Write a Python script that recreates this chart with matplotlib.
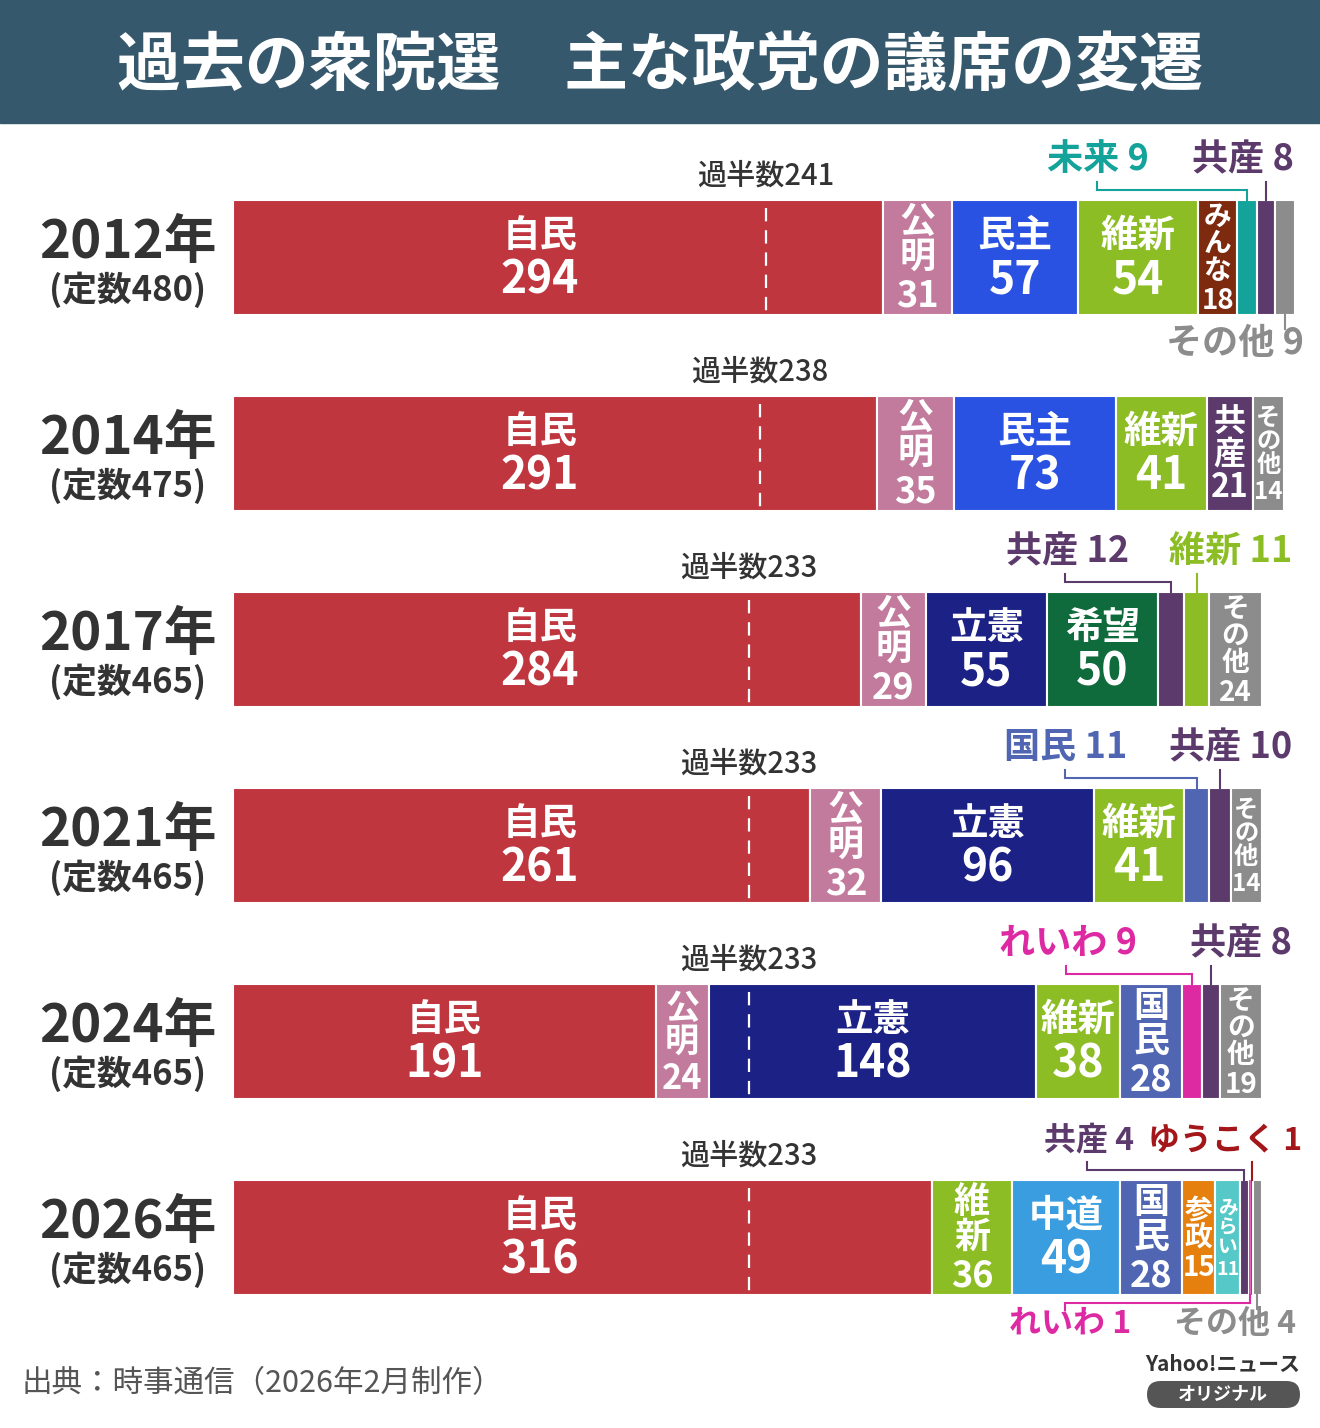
import matplotlib.pyplot as plt
from matplotlib.patches import Rectangle, FancyBboxPatch
from matplotlib.transforms import IdentityTransform

plt.rcParams['font.family'] = ['Noto Sans CJK JP', 'DejaVu Sans']

# ---- data ----
title = "過去の衆院選　主な政党の議席の変遷"
years = ["2012年", "2014年", "2017年", "2021年", "2024年", "2026年"]
totals = [480, 475, 465, 465, 465, 465]
majority = [241, 238, 233, 233, 233, 233]
parties = [
    ["自民", "公明", "民主", "維新", "みんな", "未来", "共産", "その他"],
    ["自民", "公明", "民主", "維新", "共産", "その他"],
    ["自民", "公明", "立憲", "希望", "共産", "維新", "その他"],
    ["自民", "公明", "立憲", "維新", "国民", "共産", "その他"],
    ["自民", "公明", "立憲", "維新", "国民", "れいわ", "共産", "その他"],
    ["自民", "維新", "中道", "国民", "参政", "みらい", "共産", "れいわ", "ゆうこく", "その他"],
]
seats = [
    [294, 31, 57, 54, 18, 9, 8, 9],
    [291, 35, 73, 41, 21, 14],
    [284, 29, 55, 50, 12, 11, 24],
    [261, 32, 96, 41, 11, 10, 14],
    [191, 24, 148, 38, 28, 9, 8, 19],
    [316, 36, 49, 28, 15, 11, 4, 1, 1, 4],
]
source = "出典：時事通信（2026年2月制作）"

# ---- styles ----
colors = {
    "自民": "#c0363f", "公明": "#c27b9c", "民主": "#2a52e2", "維新": "#8dbd25",
    "みんな": "#7d2a0f", "未来": "#14a39a", "共産": "#5c3b6c", "その他": "#8c8c8c",
    "立憲": "#1b2185", "希望": "#0f6b3b", "国民": "#5166b2", "れいわ": "#dd2aa3",
    "中道": "#3a9de0", "参政": "#e5800f", "みらい": "#56c8c8", "ゆうこく": "#a3161a",
}
# labels drawn outside the bar: (row, party) -> (side, text x px, elbow x px)
outside = {
    (0, "未来"): ("top", 1098, 1097), (0, "共産"): ("top", 1243, None),
    (0, "その他"): ("bottom", 1235, None),
    (2, "共産"): ("top", 1068, 1065), (2, "維新"): ("top", 1231, None),
    (3, "国民"): ("top", 1066, 1065), (3, "共産"): ("top", 1231, None),
    (4, "れいわ"): ("top", 1068, 1066), (4, "共産"): ("top", 1241, None),
    (5, "共産"): ("top", 1089, 1087), (5, "ゆうこく"): ("top", 1225, None),
    (5, "れいわ"): ("bottom", 1070, 1065), (5, "その他"): ("bottom", 1235, None),
}

W, H = 1320, 1428
S = 2.2125          # px per seat
X0 = 233            # px where bars start
ROW0, STEP = 257.5, 196
BAR_H = 115
DARK = "#333333"

fig = plt.figure(figsize=(W / 100, H / 100), dpi=100)
ax = fig.add_axes([0, 0, 1, 1])
ax.set_xlim(-X0 / S, (W - X0) / S)
ax.set_ylim((H - ROW0) / STEP, -ROW0 / STEP)
ax.axis('off')


def xd(px):
    return (px - X0) / S


def yd(py):
    return (py - ROW0) / STEP


def dy(py):
    return py / STEP


hb = BAR_H / 2 / STEP

# title bar
fig.add_artist(Rectangle((0, 1 - 123 / H), 1, 123 / H, transform=fig.transFigure,
                         color="#35586c", zorder=1))
fig.text(0.5, 1 - 66 / H, title, ha='center', va='center', color='white',
         fontsize=46, fontweight='bold', zorder=3)

for i, (yr, tot, maj, ps, vs) in enumerate(zip(years, totals, majority, parties, seats)):
    top, bot = i - hb, i + hb
    ax.text(xd(128), i - dy(15), yr, ha='center', va='center', fontsize=38,
            fontweight='bold', color=DARK)
    ax.text(xd(128), i + dy(32), f"(定数{tot})", ha='center', va='center', fontsize=25,
            fontweight='bold', color=DARK)

    left = 0
    centers = {}
    for p, v in zip(ps, vs):
        ax.barh(i, v, left=left, height=2 * hb, color=colors[p], edgecolor='white',
                linewidth=1.5 if v > 1 else 0.2)
        centers[p] = left + v / 2
        left += v

    # majority line
    ax.plot([maj, maj], [top + dy(8), bot - dy(4)], color='white', lw=1.6,
            ls=(0, (6, 4)), zorder=4)
    ax.text(maj, top - dy(24), f"過半数{maj}", ha='center', va='center', fontsize=21,
            color=DARK, fontweight='medium')

    for p, v in zip(ps, vs):
        c = centers[p]
        wpx = v * S
        if (i, p) in outside:
            side, tx, ex = outside[(i, p)]
            fs = 23 if i == 5 else 26
            tc = "#8c8c8c" if p == "その他" else colors[p]
            if side == "top":
                ax.text(xd(tx), top - dy(40), f"{p} {v}", ha='center', va='center',
                        fontsize=fs, fontweight='bold', color=tc)
                if ex is None:
                    xs, ys = [c, c], [top - dy(18), top]
                else:
                    xs = [xd(ex), xd(ex), c, c]
                    ys = [top - dy(18), top - dy(10), top - dy(10), top]
            else:
                ax.text(xd(tx), bot + dy(29), f"{p} {v}", ha='center', va='center',
                        fontsize=fs, fontweight='bold', color=tc)
                if ex is None:
                    xs, ys = [c, c], [bot, bot + dy(14)]
                else:
                    xs = [c, c, xd(ex), xd(ex)]
                    ys = [bot, bot + dy(8), bot + dy(8), bot + dy(15)]
            ax.plot(xs, ys, color=tc, lw=1.5, solid_joinstyle='miter')
        elif v >= 37:
            lx = c
            if p == "自民" and v > maj:
                lx = xd(540)
            ax.text(lx, i - dy(22), p, ha='center', va='center', fontsize=27,
                    fontweight='bold', color='white')
            ax.text(lx, i + dy(23), str(v), ha='center', va='center', fontsize=32,
                    fontweight='bold', color='white')
        else:
            chars = list(p) + [str(v)]
            n = len(chars)
            if n == 3:
                fs = min(26, 12.4 + 0.23 * wpx)
            else:
                fs = min(20, 0.5 * wpx + 2)
            step = fs * 1.389 * 0.98
            for k, ch in enumerate(chars):
                off = (k - (n - 1) / 2) * step
                if k == n - 1:
                    off += 3
                ax.text(c, i + dy(off), ch, ha='center', va='center', fontsize=fs,
                        fontweight='bold', color='white')

# footer
ax.text(xd(22), yd(1384), source, ha='left', va='center', fontsize=22, color='#555555')
ax.text(xd(1300), yd(1364), "Yahoo!ニュース", ha='right', va='center', fontsize=15,
        fontweight='bold', color=DARK)
fig.add_artist(FancyBboxPatch((1147, H - 1408), 153, 27,
                              boxstyle="round,pad=0,rounding_size=13.5",
                              transform=IdentityTransform(), fc="#555555", ec='none'))
fig.text(1223 / W, 1 - 1394 / H, "オリジナル", ha='center', va='center', fontsize=13,
         fontweight='bold', color='white', zorder=5)

fig.savefig("out.png", dpi=100)
